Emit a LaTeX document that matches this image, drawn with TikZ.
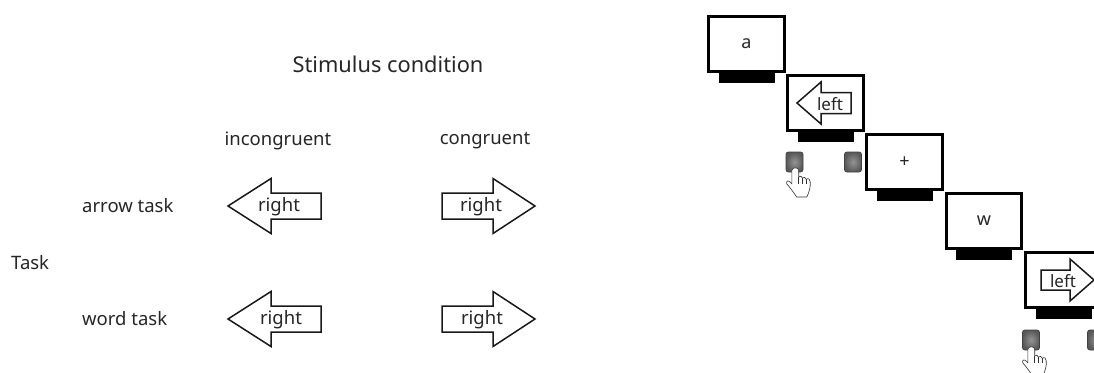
\documentclass[tikz,border=0pt]{standalone}
\usepackage{fontspec}
\setmainfont{Noto Sans}
\usepackage{tikz}
\usetikzlibrary{positioning}
\tikzset{
  lab/.style={font=\fontsize{18.5}{18.5}\selectfont, text=black!85, inner sep=0pt},
  screen/.style={draw=black, fill=white, line width=3.4pt, minimum width=75.5pt, minimum height=55.5pt, inner sep=0pt, font=\fontsize{18}{18}\selectfont, text=black!85},
  stand/.style={fill=black, minimum width=56pt, minimum height=9.5pt, inner sep=0pt},
  stim/.style={draw=black!90, fill=white, line width=1.5pt, line join=miter},
  key/.style={draw=black!75, rounded corners=2.5pt, inner color=black!42, outer color=black!65, minimum width=17pt, minimum height=20pt, inner sep=0pt, line width=0.8pt},
  hand/.pic={
    \draw[black!80, fill=white, line width=0.6pt, x=0.31pt, y=-0.333pt, line join=round]
      (-10,7) .. controls (-10,-3) and (12,-3) .. (12,7) -- (12,27)
      .. controls (16,23) and (23,24) .. (24,30)
      .. controls (28,26) and (35,28) .. (36,34)
      .. controls (44,29) and (49,34) .. (49,42)
      .. controls (51,55) and (45,75) .. (38,87) -- (5,87)
      .. controls (-3,75) and (-15,60) .. (-27,47)
      .. controls (-30,38) and (-20,34) .. (-10,48) -- cycle;
    \draw[black!80, line width=0.5pt, x=0.31pt, y=-0.333pt]
      (12,27)--(12,48) (24,30)--(24,48) (36,34)--(36,48);
  }
}
\newcommand{\stimarrow}[7]{% name, tip x, tail x, head base x, centre y, half head, half shaft
  \draw[stim] (#2,#5) -- (#4,#5-#6) -- (#4,#5-#7) -- (#3,#5-#7)
    -- (#3,#5+#7) -- (#4,#5+#7) -- (#4,#5+#6) -- cycle;
}
\begin{document}
\begin{tikzpicture}[x=1pt,y=-1pt]
\useasboundingbox (0,0) rectangle (1094,372);
\clip (0,0) rectangle (1094,372);

% table
\node[lab, font=\fontsize{21.8}{21.8}\selectfont] (title) at (388,64) {Stimulus condition};
\node[lab] (incong) at (278,141) {incongruent};
\node[lab] (cong) at (485,141) {congruent};
\node[lab, anchor=west] (arrowtask) at (82,206) {arrow task};
\node[lab, anchor=west] (wordtask) at (82,319) {word task};
\node[lab, anchor=west] (task) at (11,263) {Task};

\stimarrow{a1}{228}{321}{271}{206}{27.5}{13}
\stimarrow{a2}{535}{442}{493}{206}{27.5}{13}
\stimarrow{a3}{228}{321}{271}{319}{27.5}{13}
\stimarrow{a4}{535}{442}{493}{319}{27.5}{13}
\node[lab] (r1) at (279,207) {right};
\node[lab] (r2) at (481,207) {right};
\node[lab] (r3) at (281,320) {right};
\node[lab] (r4) at (482,320) {right};

% monitors
\foreach \n/\x/\y/\t in {1/746.5/44/a, 2/825.5/103/{}, 3/904.5/162/+, 4/984/221/w, 5/1063.5/280/{}} {
  \node[screen] (mon\n) at (\x,\y) {\t};
  \node[stand, below=-0.5pt of mon\n] (base\n) {};
}
\stimarrow{s1}{797}{851}{821}{103}{21}{10.5}
\stimarrow{s2}{1094}{1041}{1070}{280}{21}{10}
\node[lab, font=\fontsize{17}{17}\selectfont] (w1) at (830,104) {left};
\node[lab, font=\fontsize{17}{17}\selectfont] (w2) at (1063,281) {left};

% keys
\node[key] (k1) at (794.5,162) {};
\node[key] (k2) at (853,162) {};
\node[key] (k3) at (1031,340) {};
\node[key] (k4) at (1096,340) {};
\pic at (795,168) {hand};
\pic at (1031,347) {hand};
\end{tikzpicture}
\end{document}
